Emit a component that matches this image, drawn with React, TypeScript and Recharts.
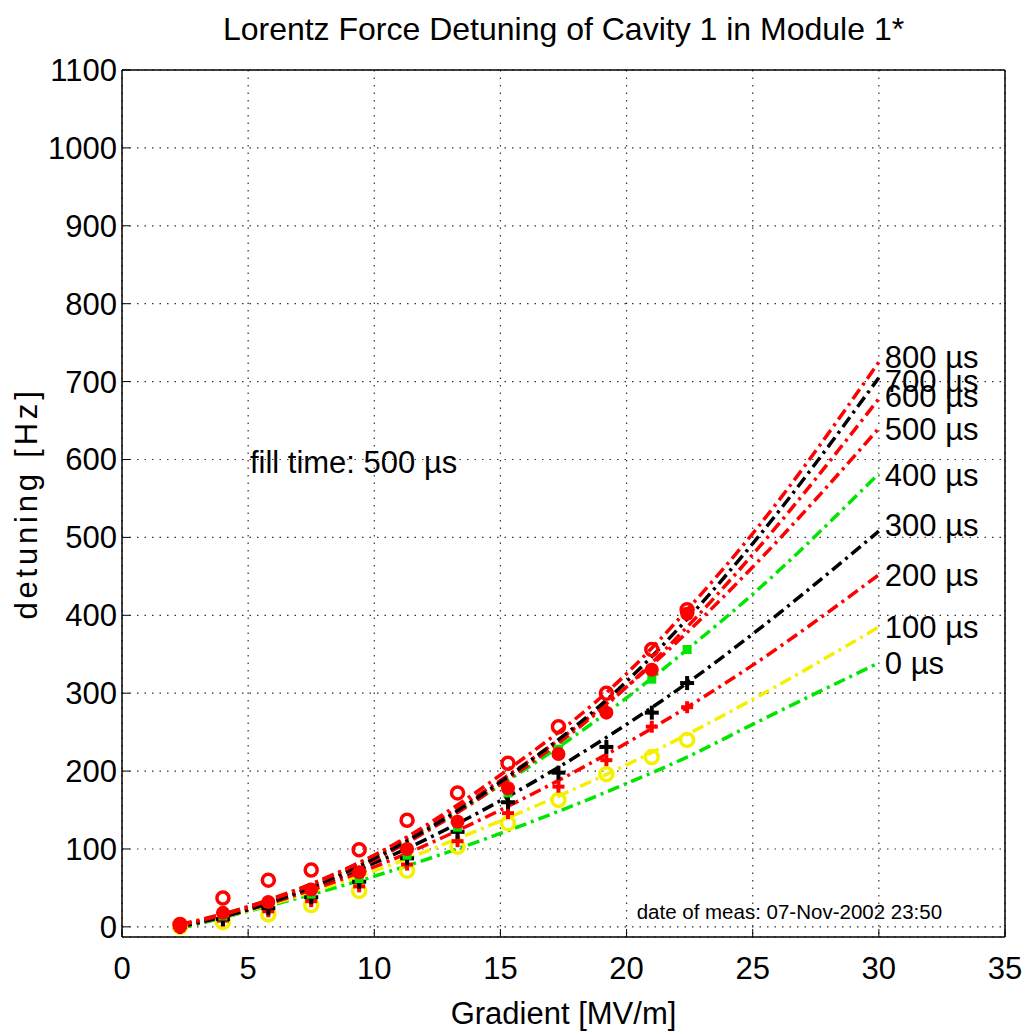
import React from 'react';
import { ComposedChart, Line, Scatter, XAxis, YAxis, CartesianGrid } from 'recharts';

// fitted curves (at these gradients)
const FIT_X = [2.3, 5, 10, 15, 20, 22.4, 25, 30];
const FIT_800 = [2, 25, 92, 195, 325, 407, 505, 725];
const FIT_700 = [0, 22, 88, 186, 315, 395, 492, 705];
const FIT_600 = [1, 22, 86, 183, 308, 385, 478, 678];
const FIT_500 = [3, 26, 92, 188, 308, 378, 462, 640];
const FIT_400 = [2, 26, 90, 182, 294, 356, 427, 582];
const FIT_300 = [1, 24, 82, 162, 260, 313, 376, 508];
const FIT_200 = [0, 22, 77, 150, 236, 282, 336, 452];
const FIT_100 = [0, 21, 72, 136, 208, 247, 292, 385];
const FIT_0 = [-2, 20, 65, 120, 184, 218, 260, 339];

// measured points
const MEAS_X = [2.3, 4.0, 5.8, 7.5, 9.4, 11.3, 13.3, 15.3, 17.3, 19.2, 21.0, 22.4];
const MEAS_800 = [3, 37, 60, 73, 99, 137, 172, 210, 257, 300, 356, 407];
const MEAS_700 = [0, 18, 32, 48, 70, 100, 135, 178, 222, 275, 330, 402];
const MEAS_400 = [0, 14, 30, 42, 62, 92, 128, 172, 228, 275, 318, 356];
const MEAS_300 = [0, 10, 24, 38, 58, 88, 122, 160, 198, 231, 275, 313];
const MEAS_200 = [0, 8, 20, 33, 52, 80, 110, 146, 180, 214, 257, 282];
const MEAS_100 = [0, 6, 16, 28, 46, 72, 103, 133, 163, 196, 218, 240];

const END_LABELS = ['800 µs', '700 µs', '600 µs', '500 µs', '400 µs', '300 µs', '200 µs', '100 µs', '0 µs'];
const END_LABEL_Y = [732, 701, 682, 639, 580, 516, 452, 385, 339];

const X_TICKS = [0, 5, 10, 15, 20, 25, 30, 35];
const Y_TICKS = [0, 100, 200, 300, 400, 500, 600, 700, 800, 900, 1000, 1100];

const W = 1026;
const H = 1031;
const FONT = '"Liberation Sans", Arial, Helvetica, sans-serif';
const RED = '#ff0000';
const GREEN = '#00e600';
const YELLOW = '#f5f000';
const BLACK = '#000000';

const pts = (xs: number[], ys: number[]) => xs.map((x, i) => ({ x, y: ys[i] }));

const fits = [
  { key: 'f0', ys: FIT_0, color: GREEN },
  { key: 'f100', ys: FIT_100, color: YELLOW },
  { key: 'f200', ys: FIT_200, color: RED },
  { key: 'f300', ys: FIT_300, color: BLACK },
  { key: 'f400', ys: FIT_400, color: GREEN },
  { key: 'f500', ys: FIT_500, color: RED },
  { key: 'f600', ys: FIT_600, color: RED },
  { key: 'f700', ys: FIT_700, color: BLACK },
  { key: 'f800', ys: FIT_800, color: RED },
];

const endLabelData = END_LABELS.map((t, i) => ({ x: 30, y: END_LABEL_Y[i], t }));
const fillNote = [{ x: 5.07, y: 597, t: 'fill time: 500 µs' }];
const dateNote = [{ x: 20.4, y: 19, t: 'date of meas: 07-Nov-2002  23:50' }];

const openCircle = (color: string, r: number) => (p: any) => (
  <circle cx={p.cx} cy={p.cy} r={r} fill="none" stroke={color} strokeWidth={3.5} />
);
const dotMark = (color: string, r: number) => (p: any) => (
  <circle cx={p.cx} cy={p.cy} r={r} fill={color} />
);
const squareMark = (color: string, s: number) => (p: any) => (
  <rect x={p.cx - s / 2} y={p.cy - s / 2} width={s} height={s} fill={color} />
);
const plusMark = (color: string, s: number) => (p: any) => (
  <g stroke={color} strokeWidth={4}>
    <line x1={p.cx - s} y1={p.cy} x2={p.cx + s} y2={p.cy} />
    <line x1={p.cx} y1={p.cy - s} x2={p.cx} y2={p.cy + s} />
  </g>
);
const textMark = (size: number, dx: number) => (p: any) => (
  <text x={p.cx + dx} y={p.cy} dy={size * 0.36} fontSize={size} fontFamily={FONT} fill="#000">
    {p.payload.t}
  </text>
);

const tickStyle = { fontSize: 31, fill: '#000', fontFamily: FONT };

export default function App() {
  return (
    <div style={{ position: 'absolute', left: 0, top: 0, width: W, height: H, background: '#fff' }}>
      <div
        style={{
          position: 'absolute', left: 122, top: 13, width: 883, textAlign: 'center',
          fontFamily: FONT, fontSize: 32, lineHeight: '32px', color: '#000',
        }}
      >
        Lorentz Force Detuning of Cavity 1 in Module 1*
      </div>
      <ComposedChart width={W} height={H} margin={{ top: 69, right: 20, bottom: 0, left: 0 }}>
        <CartesianGrid stroke="#333" strokeWidth={1.2} strokeDasharray="1.5 6" />
        <XAxis
          dataKey="x" type="number" domain={[0, 35]} ticks={X_TICKS} interval={0}
          height={94} tickSize={-8} tickMargin={28}
          tick={tickStyle} stroke="#000" axisLine={{ stroke: '#000', strokeWidth: 1.5 }}
          label={{ value: 'Gradient [MV/m]', position: 'insideBottom', offset: 7, fontSize: 31, fill: '#000', fontFamily: FONT }}
        />
        <XAxis
          xAxisId="top" orientation="top" type="number" domain={[0, 35]} ticks={X_TICKS} interval={0}
          height={1} tickSize={-8} tick={false} stroke="#000" axisLine={{ stroke: '#000', strokeWidth: 1.5 }}
        />
        <YAxis
          type="number" domain={[-13, 1100]} ticks={Y_TICKS} interval={0}
          width={122} tickSize={-8} tickMargin={13}
          tick={tickStyle} stroke="#000" axisLine={{ stroke: '#000', strokeWidth: 1.5 }}
          label={{
            content: (p: any) => {
              const vb = p.viewBox || { x: 0, y: 70, height: 867 };
              const cx = vb.x + 26;
              const cy = vb.y + vb.height / 2;
              return (
                <text x={cx} y={cy} dy={11} transform={`rotate(-90 ${cx} ${cy})`} textAnchor="middle"
                  fontSize={31} fontFamily={FONT} fill="#000" letterSpacing={3.8}>
                  detuning [Hz]
                </text>
              );
            },
          }}
        />
        <YAxis
          yAxisId="right" orientation="right" type="number" domain={[-13, 1100]} ticks={Y_TICKS} interval={0}
          width={1} tickSize={-8} tick={false} stroke="#000" axisLine={{ stroke: '#000', strokeWidth: 1.5 }}
        />

        {fits.map(f => (
          <Line
            key={f.key}
            data={pts(FIT_X, f.ys)}
            dataKey="y"
            type="monotone"
            stroke={f.color}
            strokeWidth={3.5}
            strokeDasharray="12 5 3 5"
            dot={false}
            activeDot={false}
            isAnimationActive={false}
          />
        ))}

        <Scatter data={pts(MEAS_X, MEAS_100)} dataKey="y" shape={openCircle(YELLOW, 6.5)} isAnimationActive={false} />
        <Scatter data={pts(MEAS_X, MEAS_200)} dataKey="y" shape={plusMark(RED, 6)} isAnimationActive={false} />
        <Scatter data={pts(MEAS_X, MEAS_300)} dataKey="y" shape={plusMark(BLACK, 7)} isAnimationActive={false} />
        <Scatter data={pts(MEAS_X, MEAS_400)} dataKey="y" shape={squareMark(GREEN, 9)} isAnimationActive={false} />
        <Scatter data={pts(MEAS_X, MEAS_700)} dataKey="y" shape={dotMark(RED, 7)} isAnimationActive={false} />
        <Scatter data={pts(MEAS_X, MEAS_800)} dataKey="y" shape={openCircle(RED, 6)} isAnimationActive={false} />

        <Scatter data={endLabelData} dataKey="y" shape={textMark(31, 6)} isAnimationActive={false} />
        <Scatter data={fillNote} dataKey="y" shape={textMark(31, 0)} isAnimationActive={false} />
        <Scatter data={dateNote} dataKey="y" shape={textMark(20.5, 0)} isAnimationActive={false} />
      </ComposedChart>
    </div>
  );
}
